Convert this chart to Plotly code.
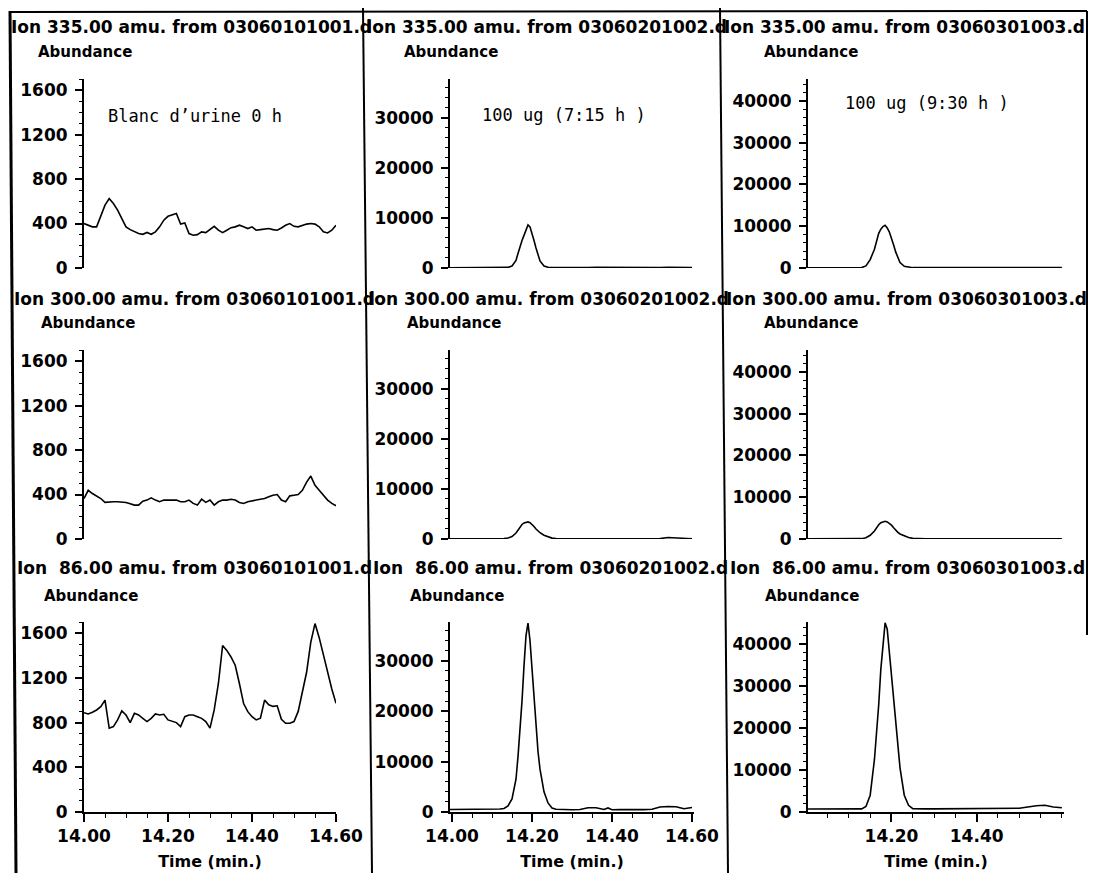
import plotly.graph_objects as go

# target picture size, and the 8 px default page margin of the html body
W, H = 1097, 881
OFF = 8
FW, FH = W - 2 * OFF, H - 2 * OFF

# ---------------- data ----------------
# blank urine sample (col 1), sampled every 0.01 min from 14.00 to 14.60
T_BLANK = [14.00, 14.01, 14.02, 14.03, 14.04, 14.05, 14.06, 14.07, 14.08, 14.09,
           14.10, 14.11, 14.12, 14.13, 14.14, 14.15, 14.16, 14.17, 14.18, 14.19,
           14.20, 14.21, 14.22, 14.23, 14.24, 14.25, 14.26, 14.27, 14.28, 14.29,
           14.30, 14.31, 14.32, 14.33, 14.34, 14.35, 14.36, 14.37, 14.38, 14.39,
           14.40, 14.41, 14.42, 14.43, 14.44, 14.45, 14.46, 14.47, 14.48, 14.49,
           14.50, 14.51, 14.52, 14.53, 14.54, 14.55, 14.56, 14.57, 14.58, 14.59,
           14.60]
BLANK_335 = [400, 384, 370, 370, 460, 565, 624, 580, 520, 445,
             370, 345, 325, 310, 303, 320, 303, 325, 370, 430,
             465, 475, 490, 395, 405, 310, 295, 300, 325, 318,
             345, 375, 340, 318, 340, 363, 370, 385, 370, 355,
             370, 340, 345, 348, 355, 345, 340, 360, 384, 400,
             375, 370, 385, 395, 400, 395, 370, 325, 315, 340,
             384]
BLANK_300 = [364, 438, 409, 388, 364, 329, 335, 335, 335, 335,
             329, 317, 305, 305, 340, 350, 370, 350, 335, 350,
             350, 350, 350, 335, 335, 350, 320, 305, 358, 329,
             350, 305, 335, 350, 350, 358, 350, 329, 320, 335,
             340, 350, 358, 364, 380, 394, 400, 350, 335, 388,
             394, 400, 438, 512, 566, 483, 438, 394, 350, 320,
             299]
BLANK_86 = [889, 877, 892, 913, 942, 1001, 750, 764, 824, 904,
            868, 800, 883, 868, 838, 809, 838, 877, 868, 874,
            824, 809, 800, 764, 853, 868, 868, 853, 838, 809,
            750, 913, 1150, 1490, 1446, 1387, 1313, 1150, 970, 898,
            853, 824, 840, 1001, 960, 945, 950, 830, 794, 794,
            809, 900, 1061, 1250, 1520, 1686, 1560, 1400, 1238, 1100,
            972]

# dosed samples (col 2 and col 3)
T_DOSE = [13.995, 14.00, 14.02, 14.04, 14.06, 14.08, 14.10, 14.12, 14.13, 14.14,
          14.15, 14.16, 14.165, 14.17, 14.175, 14.18, 14.185, 14.19, 14.195, 14.20,
          14.205, 14.21, 14.215, 14.22, 14.23, 14.24, 14.25, 14.26, 14.28, 14.30,
          14.32, 14.34, 14.36, 14.38, 14.39, 14.40, 14.42, 14.44, 14.46, 14.48,
          14.50, 14.52, 14.54, 14.56, 14.58, 14.60]
S2_335 = [60, 60, 50, 60, 50, 60, 50, 60, 60, 120,
          400, 1500, 2900, 4300, 5500, 6500, 7800, 8600, 8200, 7000,
          5500, 4000, 2600, 1400, 400, 150, 80, 100, 120, 100,
          90, 110, 120, 100, 90, 100, 110, 120, 100, 120,
          110, 100, 130, 120, 110, 100]
S2_300 = [50, 50, 40, 50, 40, 50, 40, 60, 80, 200,
          500, 1200, 1800, 2400, 2900, 3200, 3350, 3400, 3250, 2900,
          2500, 2000, 1600, 1250, 750, 400, 180, 90, 60, 50,
          60, 50, 60, 50, 60, 50, 60, 50, 60, 50,
          60, 80, 300, 250, 80, 60]
S2_86 = [500, 500, 480, 470, 480, 470, 480, 600, 700, 1200,
         2600, 6500, 11000, 16000, 22000, 29000, 35000, 37500, 34000, 28500,
         22500, 17000, 12000, 8500, 4000, 1800, 800, 550, 450, 450,
         500, 850, 850, 500, 800, 450, 500, 450, 450, 480,
         550, 1000, 1100, 1050, 650, 900]
S3_335 = [60, 60, 50, 60, 50, 60, 50, 60, 100, 500,
          2000, 4500, 6500, 8300, 9300, 9900, 10200, 9600, 8600, 7200,
          5500, 3800, 2300, 1300, 400, 150, 80, 100, 110, 100,
          90, 110, 100, 90, 100, 110, 100, 120, 100, 110,
          100, 120, 110, 100, 110, 100]
S3_300 = [50, 50, 40, 50, 40, 50, 40, 60, 80, 300,
          900, 1900, 2700, 3400, 3900, 4150, 4250, 4100, 3800, 3300,
          2700, 2100, 1600, 1200, 700, 350, 150, 80, 60, 50,
          60, 50, 60, 70, 60, 50, 60, 50, 60, 70,
          60, 70, 80, 60, 70, 60]
S3_86 = [700, 700, 680, 700, 690, 700, 680, 700, 750, 1300,
         4000, 12500, 18500, 25500, 34000, 40500, 45000, 43500, 38000, 31500,
         26000, 20500, 15500, 10500, 4000, 1600, 800, 750, 750, 750,
         760, 750, 760, 750, 760, 750, 760, 770, 780, 800,
         900, 1200, 1500, 1600, 1200, 1000]

IONS = ["335.00", "300.00", "86.00"]
FILES = ["03060101001.d", "03060201002.d", "03060301003.d"]
SAMPLE_LABELS = ["Blanc d’urine 0 h", "100 ug (7:15 h )", "100 ug (9:30 h )"]

Y_TICKS_BLANK = [0, 400, 800, 1200, 1600]
Y_TICKS_S2 = [0, 10000, 20000, 30000]
Y_TICKS_S3 = [0, 10000, 20000, 30000, 40000]
X_TICKS_12 = [14.00, 14.20, 14.40, 14.60]
X_TICKTEXT_12 = ["14.00", "14.20", "14.40", "14.60"]
X_TICKS_3 = [14.20, 14.40]
X_TICKTEXT_3 = ["14.20", "14.40"]

# ---------------- layout helpers (page pixels -> paper fraction) ----------------
def X(px):
    return (px - OFF) / FW

def Y(py):
    return 1 - (py - OFF) / FH

COL_PX = [(84, 336), (450, 694), (808, 1064)]
ROW_PX = [(79, 268), (350, 539), (622, 812)]
X_RANGES = [[14.00, 14.60], [13.995, 14.605], [14.004, 14.605]]
Y_RANGES = [[0, 1700], [0, 37700], [0, 45200]]
Y_TICKS = [Y_TICKS_BLANK, Y_TICKS_S2, Y_TICKS_S3]
Y_MINOR = [100, 2000, 2000]

HEAD_FONT = dict(family="DejaVu Sans", size=17, color="black", weight="bold")
TICK_FONT = dict(family="DejaVu Sans", size=17, color="black", weight="bold")
TITLE_FONT = dict(family="DejaVu Sans", size=16, color="black", weight="bold")

series = [
    [(T_BLANK, BLANK_335), (T_DOSE, S2_335), (T_DOSE, S3_335)],
    [(T_BLANK, BLANK_300), (T_DOSE, S2_300), (T_DOSE, S3_300)],
    [(T_BLANK, BLANK_86), (T_DOSE, S2_86), (T_DOSE, S3_86)],
]

fig = go.Figure()
layout = dict(
    width=FW, height=FH,
    margin=dict(l=0, r=0, t=0, b=0, autoexpand=False),
    paper_bgcolor="white", plot_bgcolor="white",
    showlegend=False,
)

annotations = []
idx = 0
for r in range(3):
    for c in range(3):
        idx += 1
        xs, ys = series[r][c]
        suffix = "" if idx == 1 else str(idx)
        fig.add_trace(go.Scatter(
            x=xs, y=ys, mode="lines",
            line=dict(color="black", width=1.6),
            xaxis="x" + suffix, yaxis="y" + suffix,
            hoverinfo="skip",
        ))
        x0, x1 = COL_PX[c]
        y0, y1 = ROW_PX[r]
        xa = dict(
            domain=[X(x0), X(x1)], range=X_RANGES[c], anchor="y" + suffix,
            showgrid=False, zeroline=False, automargin=False,
        )
        if r == 2:
            tv = X_TICKS_3 if c == 2 else X_TICKS_12
            tt = X_TICKTEXT_3 if c == 2 else X_TICKTEXT_12
            xa.update(
                showline=True, linecolor="black", linewidth=2,
                ticks="outside", ticklen=8, tickwidth=1.5, tickcolor="black",
                tickmode="array", tickvals=tv, ticktext=tt,
                tickfont=TICK_FONT,
                minor=dict(tickmode="linear", tick0=14.0, dtick=0.05, ticks="outside",
                           ticklen=4, tickwidth=1, tickcolor="black"),
                title=dict(text="Time (min.)", font=TITLE_FONT, standoff=10),
            )
        else:
            xa.update(visible=False)
        ya = dict(
            domain=[Y(y1), Y(y0)], range=Y_RANGES[c], anchor="x" + suffix,
            showgrid=False, zeroline=False, automargin=False,
            showline=True, linecolor="black", linewidth=2,
            ticks="outside", ticklen=7, tickwidth=1.5, tickcolor="black",
            tickmode="array", tickvals=Y_TICKS[c],
            ticktext=[str(v) for v in Y_TICKS[c]],
            tickfont=TICK_FONT, ticklabelstandoff=4,
            minor=dict(tickmode="linear", tick0=0, dtick=Y_MINOR[c], ticks="outside",
                       ticklen=3, tickwidth=1, tickcolor="black"),
        )
        layout["xaxis" + suffix] = xa
        layout["yaxis" + suffix] = ya

# header lines
HEAD_X = [[9, 364, 722], [12, 366, 724], [15, 371, 728]]
HEAD_Y = [26.5, 299, 568]
ABUND_X = [[36, 402, 762], [39, 405, 762], [42, 408, 763]]
ABUND_Y = [52, 323, 596]
for r in range(3):
    for c in range(3):
        ion = IONS[r]
        gap = "\u00a0" if len(ion) < 6 else ""
        annotations.append(dict(
            text=f"Ion {gap}{ion} amu. from {FILES[c]}",
            x=X(HEAD_X[r][c]), y=Y(HEAD_Y[r]), xref="paper", yref="paper",
            xanchor="left", yanchor="middle", showarrow=False, font=HEAD_FONT,
        ))
        annotations.append(dict(
            text="Abundance",
            x=X(ABUND_X[r][c]), y=Y(ABUND_Y[r]), xref="paper", yref="paper",
            xanchor="left", yanchor="middle", showarrow=False,
            font=dict(family="DejaVu Sans", size=15, color="black", weight="bold"),
        ))

LABEL_POS = [(106, 116), (480, 115), (843, 103)]
for c in range(3):
    annotations.append(dict(
        text=SAMPLE_LABELS[c].replace(" ", "\u00a0"),
        x=X(LABEL_POS[c][0]), y=Y(LABEL_POS[c][1]), xref="paper", yref="paper",
        xanchor="left", yanchor="middle", showarrow=False,
        font=dict(family="DejaVu Sans Mono", size=17, color="black"),
    ))

layout["annotations"] = annotations

# frame lines of the scanned printout
def seg(xa, ya, xb, yb, w):
    return dict(type="line", xref="paper", yref="paper",
                x0=X(xa), y0=Y(ya), x1=X(xb), y1=Y(yb),
                line=dict(color="black", width=w))

layout["shapes"] = [
    seg(9, 12, 1087, 11, 2),
    seg(10, 11, 16, 873, 3),
    seg(363, 8, 372, 873, 2),
    seg(720, 8, 728, 873, 2),
    seg(1087, 11, 1087, 635, 2),
]

fig.update_layout(**layout)
fig.write_html("out.html")
